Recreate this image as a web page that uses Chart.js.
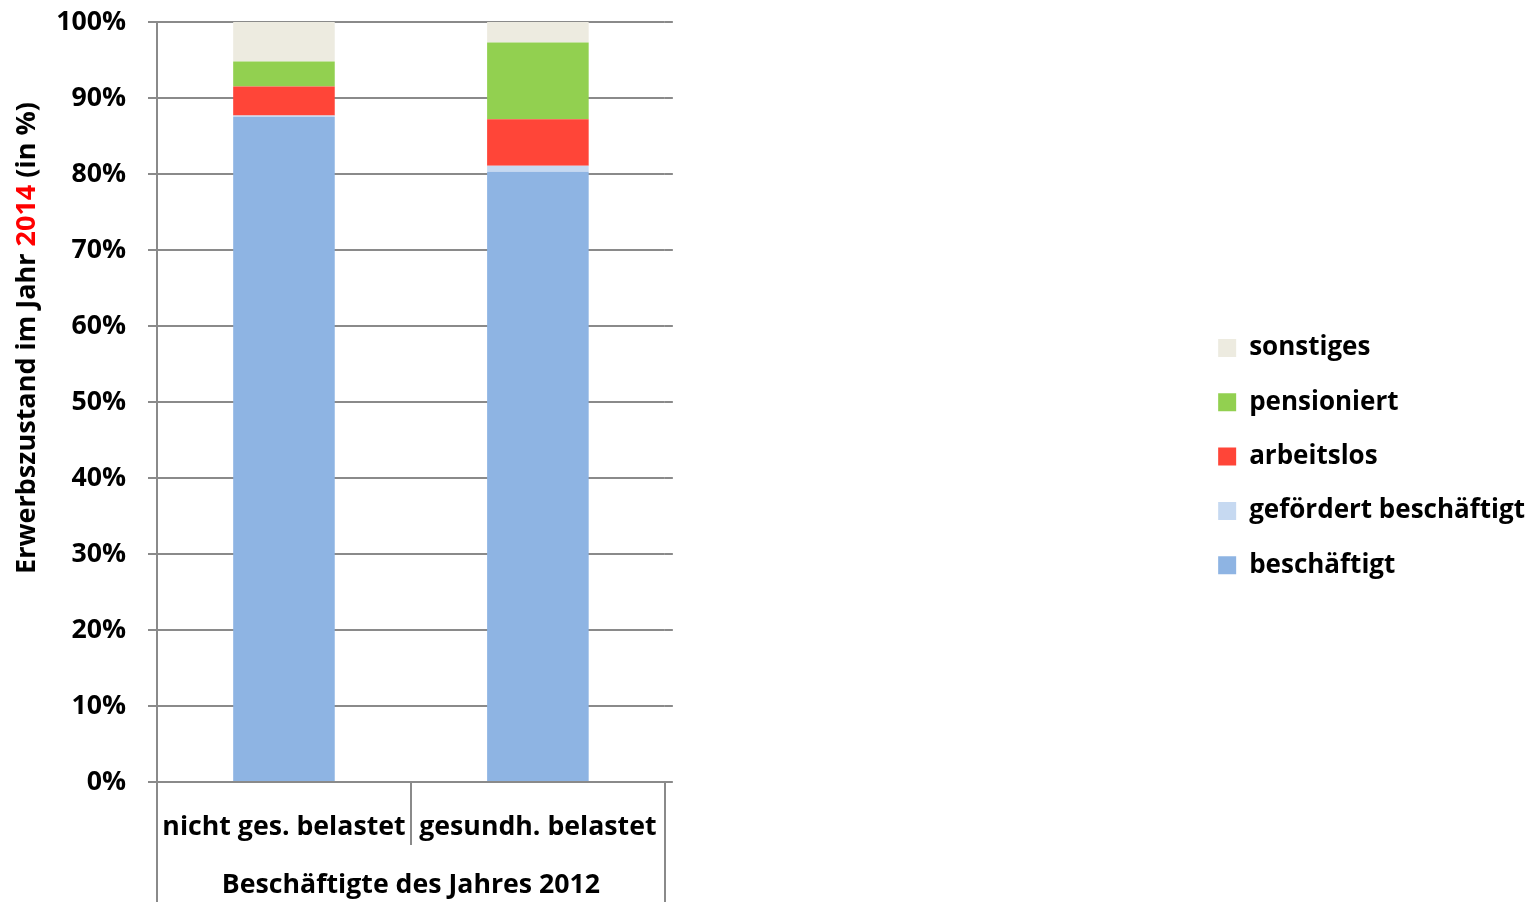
<!DOCTYPE html>
<html>
<head>
<meta charset="utf-8">
<script src="https://cdn.jsdelivr.net/npm/chart.js@4"></script>
<style>
html,body{margin:0;padding:0;background:#fff;}
#wrap{width:1537px;height:902px;position:relative;}
</style>
</head>
<body>
<div id="wrap"><canvas id="c" width="1537" height="902"></canvas></div>
<script>
const categories = ['nicht ges. belastet', 'gesundh. belastet'];
const groupLabel = 'Beschäftigte des Jahres 2012';
const yTitleParts = ['Erwerbszustand im Jahr ', '2014', ' (in %)'];
const yTicks = [0, 10, 20, 30, 40, 50, 60, 70, 80, 90, 100];

const seriesNames = ['beschäftigt', 'gefördert beschäftigt', 'arbeitslos', 'pensioniert', 'sonstiges'];
const beschaeftigt = [87.5, 80.3];
const gefoerdert = [0.2, 0.8];
const arbeitslos = [3.8, 6.1];
const pensioniert = [3.3, 10.1];
const sonstiges = [5.2, 2.7];
const seriesColors = ['#8EB4E3', '#C6D9F1', '#FF4538', '#92D050', '#EDEBE0'];

const FONT = '"Open Sans"';
const FS = 26.7;
const GRID = '#8a8a8a';

const seriesValues = [beschaeftigt, gefoerdert, arbeitslos, pensioniert, sonstiges];
const datasets = seriesNames.map((n, i) => ({
  label: n,
  data: seriesValues[i],
  backgroundColor: seriesColors[i],
  borderWidth: 0,
  barPercentage: 1,
  categoryPercentage: 0.4
}));

const decor = {
  id: 'decor',
  afterDraw(chart) {
    const ctx = chart.ctx;
    const x = chart.scales.x;
    const ca = chart.chartArea;
    ctx.save();
    ctx.strokeStyle = GRID;
    ctx.lineWidth = 2;
    [x.left, x.right].forEach(px => {
      ctx.beginPath();
      ctx.moveTo(Math.round(px), ca.bottom);
      ctx.lineTo(Math.round(px), chart.height);
      ctx.stroke();
    });
    // y axis title with red year
    ctx.font = 'bold 27px ' + FONT;
    const colors = ['#000000', '#FF0000', '#000000'];
    const widths = yTitleParts.map(t => ctx.measureText(t).width);
    const total = widths.reduce((a, b) => a + b, 0);
    const cy = (ca.top + ca.bottom) / 2 - 64;
    ctx.translate(27, cy);
    ctx.rotate(-Math.PI / 2);
    ctx.textBaseline = 'middle';
    ctx.textAlign = 'left';
    let px = -total / 2;
    yTitleParts.forEach((t, i) => {
      ctx.fillStyle = colors[i];
      ctx.fillText(t, px, 0);
      px += widths[i];
    });
    ctx.restore();
  }
};

new Chart(document.getElementById('c'), {
  type: 'bar',
  data: { labels: categories, datasets },
  plugins: [decor],
  options: {
    responsive: false,
    animation: false,
    layout: { padding: { top: 7, bottom: 1, left: 0, right: 2 } },
    plugins: {
      tooltip: { enabled: false },
      legend: {
        position: 'right',
        reverse: true,
        maxWidth: 500,
        title: {
          display: true,
          text: ' ',
          font: { size: 1 },
          padding: 2
        },
        labels: {
          boxWidth: 18,
          boxHeight: 18,
          padding: 28.3,
          color: '#000',
          font: { family: FONT, size: 26, weight: 'bold' }
        }
      }
    },
    scales: {
      x: {
        stacked: true,
        grid: {
          offset: true,
          drawOnChartArea: false,
          drawTicks: true,
          tickLength: 63,
          color: GRID,
          lineWidth: 2
        },
        border: { display: true, color: GRID, width: 2 },
        ticks: {
          color: '#000',
          padding: -34,
          font: { family: FONT, size: FS, weight: 'bold' },
          maxRotation: 0
        },
        title: {
          display: true,
          text: groupLabel,
          color: '#000',
          font: { family: FONT, size: FS, weight: 'bold' },
          padding: { top: 0, bottom: 0 }
        },
        afterFit(s) { s.height = 119; }
      },
      y: {
        stacked: true,
        min: 0,
        max: 100,
        afterBuildTicks(s) { s.ticks = yTicks.map(v => ({ value: v })); },
        grid: {
          color: GRID,
          lineWidth: 2,
          drawTicks: true,
          tickLength: 9
        },
        border: { display: true, color: GRID, width: 2 },
        ticks: {
          color: '#000',
          padding: 22,
          font: { family: FONT, size: FS, weight: 'bold' },
          callback: v => v + '%'
        },
        afterFit(s) { s.width = 157; s.paddingTop = 22; s.paddingBottom = 16; }
      },
      y2: {
        position: 'right',
        min: 0,
        max: 100,
        afterBuildTicks(s) { s.ticks = yTicks.map(v => ({ value: v })); },
        grid: {
          drawOnChartArea: false,
          drawTicks: true,
          tickLength: 8,
          color: GRID,
          lineWidth: 2
        },
        border: { display: false },
        ticks: { display: false },
        afterFit(s) { s.width = 525; s.paddingTop = 0; s.paddingBottom = 0; }
      }
    }
  }
});
</script>
</body>
</html>
